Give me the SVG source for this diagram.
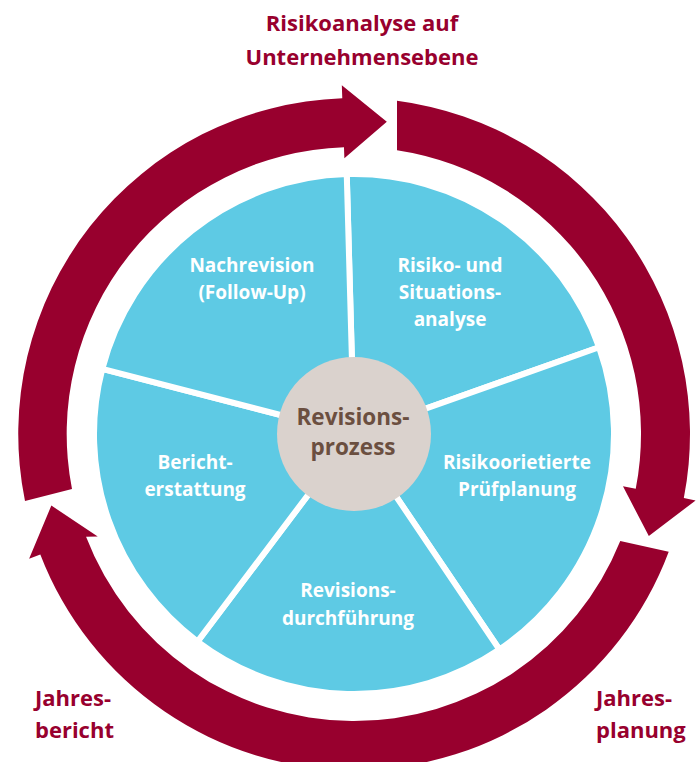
<svg xmlns="http://www.w3.org/2000/svg" width="697" height="762" viewBox="0 0 697 762">
<style>
.ring{fill:#98002E;}
.sec{fill:#5ECAE4;stroke:#FFFFFF;stroke-width:6;stroke-linejoin:miter;}
.lbl{font-family:"Open Sans",Lato,"Liberation Sans",sans-serif;font-weight:bold;font-size:19px;fill:#FFFFFF;text-anchor:middle;}
.out{font-family:"Open Sans",Lato,"Liberation Sans",sans-serif;font-weight:bold;font-size:22px;fill:#98002E;}
.ctr{font-family:"Open Sans",Lato,"Liberation Sans",sans-serif;font-weight:bold;font-size:22.5px;fill:#6B4F40;text-anchor:middle;}
</style>
<rect width="697" height="762" fill="#FFFFFF"/>
<g id="connectors">
<path id="arrow-top" class="ring" d="M25,501 A336,336 0 0 1 342.27,98.2 L341.82,85.21 L386.82,121.72 L344.37,158.17 L343.98,147.17 A287,287 0 0 0 72,489 Z"/>
<path id="arrow-right" class="ring" d="M397,100.8 A336,336 0 0 1 683.83,498.11 L695.61,500.4 L648.82,536.09 L622.97,486.28 L635.73,488.76 A287,287 0 0 0 397,150.2 Z"/>
<path id="arrow-bottom" class="ring" d="M668.72,551.67 A336,336 0 0 1 40.32,554.41 L29.11,558.71 L51.34,505.55 L97.74,536.5 L86.06,536.85 A287,287 0 0 0 620.27,541.09 Z"/>
</g>
<g id="node-risiko">
<path class="sec" d="M354,434 L346.74,174.1 A260,260 0 0 1 599.09,347.21 Z"/>
<text class="lbl" x="450" y="272">Risiko- und</text>
<text class="lbl" x="450" y="299">Situations-</text>
<text class="lbl" x="450" y="326">analyse</text>
</g>
<g id="node-pruefplanung">
<path class="sec" d="M354,434 L599.09,347.21 A260,260 0 0 1 499.39,649.55 Z"/>
<text class="lbl" x="517" y="469">Risikoorietierte</text>
<text class="lbl" x="517" y="496">Prüfplanung</text>
</g>
<g id="node-durchfuehrung">
<path class="sec" d="M354,434 L499.39,649.55 A260,260 0 0 1 197.53,641.65 Z"/>
<text class="lbl" x="348" y="597">Revisions-</text>
<text class="lbl" x="348" y="625">durchführung</text>
</g>
<g id="node-bericht">
<path class="sec" d="M354,434 L197.53,641.65 A260,260 0 0 1 102.28,368.9 Z"/>
<text class="lbl" x="195" y="469">Bericht-</text>
<text class="lbl" x="195" y="496">erstattung</text>
</g>
<g id="node-nachrevision">
<path class="sec" d="M354,434 L102.28,368.9 A260,260 0 0 1 346.74,174.1 Z"/>
<text class="lbl" x="252" y="272">Nachrevision</text>
<text class="lbl" x="252" y="299">(Follow-Up)</text>
</g>
<g id="node-center">
<circle cx="354" cy="434" r="77" fill="#DAD2CD"/>
<text class="ctr" x="353" y="425">Revisions-</text>
<text class="ctr" x="353" y="455">prozess</text>
</g>
<g id="label-top">
<text class="out" x="362" y="31" text-anchor="middle">Risikoanalyse auf</text>
<text class="out" x="362" y="65" text-anchor="middle">Unternehmensebene</text>
</g>
<g id="label-left">
<text class="out" x="35" y="706">Jahres-</text>
<text class="out" x="35" y="738">bericht</text>
</g>
<g id="label-right">
<text class="out" x="596" y="706">Jahres-</text>
<text class="out" x="596" y="738">planung</text>
</g>
</svg>
